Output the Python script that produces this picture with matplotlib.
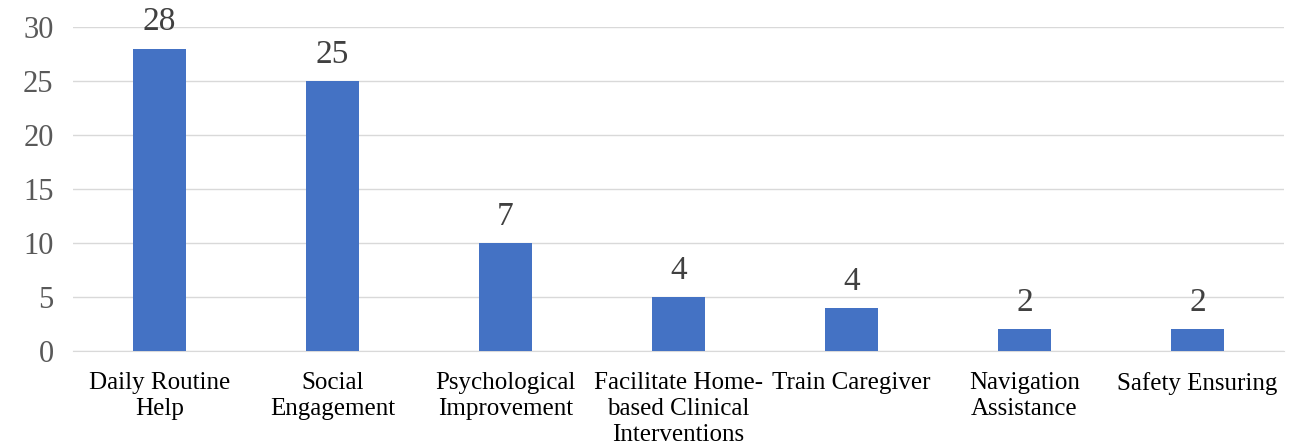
import matplotlib
matplotlib.use('Agg')
import matplotlib.pyplot as plt
import numpy as np

categories = ['Daily Routine\nHelp', 'Social\nEngagement', 'Psychological\nImprovement',
              'Facilitate Home-\nbased Clinical\nInterventions', 'Train Caregiver',
              'Navigation\nAssistance', 'Safety Ensuring']
bar_values = [28, 25, 10, 5, 4, 2, 2]
label_values = [28, 25, 7, 4, 4, 2, 2]

plt.rcParams['font.family'] = ['Liberation Serif', 'DejaVu Serif']

fig = plt.figure(figsize=(12.94, 4.47), dpi=100)
ax = fig.add_axes([73 / 1294, 1 - 351 / 447, (1284 - 73) / 1294, (351 - 27) / 447])

x = np.arange(len(categories))
bars = ax.bar(x, bar_values, width=0.31, color='#4472C4', zorder=3)
for xi, v, lab in zip(x, bar_values, label_values):
    ax.annotate(str(lab), (xi, v), xytext=(0, 8), textcoords='offset points',
                ha='center', va='bottom', fontsize=24, color='#404040')

ax.set_xlim(-0.5, len(categories) - 0.5)
ax.set_ylim(0, 30)
ax.set_yticks(range(0, 31, 5))
ax.tick_params(axis='y', labelsize=22, labelcolor='#595959', length=0, pad=14)
ax.set_xticks(x)
ax.set_xticklabels(categories, fontsize=18, color='black', linespacing=1.25)
ax.tick_params(axis='x', length=0, pad=15)
ax.grid(axis='y', color='#d9d9d9', linewidth=1, zorder=0)
for s in ['top', 'right', 'left']:
    ax.spines[s].set_visible(False)
ax.spines['bottom'].set_color('#d9d9d9')

fig.savefig('out.png', dpi=100)
